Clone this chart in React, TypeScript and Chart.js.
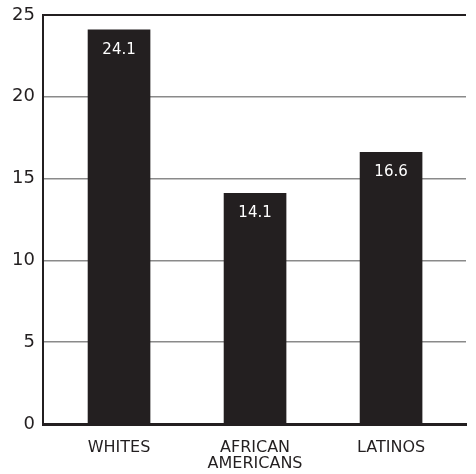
import React, { useEffect, useRef } from "react";
import { Chart, registerables } from "chart.js";

Chart.register(...registerables);

const categories: string[] = ["WHITES", "AFRICAN\nAMERICANS", "LATINOS"];
const values: number[] = [24.1, 14.1, 16.6];
const yTicks: number[] = [0, 5, 10, 15, 20, 25];

const INK = "#231f20";
const FONT = "'DejaVu Sans', sans-serif";

const valueLabels = {
  id: "valueLabels",
  afterDatasetsDraw(chart: any) {
    const ctx = chart.ctx;
    const meta = chart.getDatasetMeta(0);
    ctx.save();
    ctx.fillStyle = "#ffffff";
    ctx.font = `15px ${FONT}`;
    ctx.textAlign = "center";
    ctx.textBaseline = "middle";
    meta.data.forEach((bar: any, i: number) => {
      ctx.fillText(values[i].toFixed(1), bar.x, bar.y + 20);
    });
    ctx.restore();
  },
};

export default function App() {
  const ref = useRef<HTMLCanvasElement | null>(null);

  useEffect(() => {
    if (!ref.current) return;
    const chart = new Chart(ref.current, {
      type: "bar",
      data: {
        datasets: [
          {
            data: values.map((v, i) => ({ x: i, y: v })),
            backgroundColor: INK,
            borderWidth: 0,
            barThickness: 62,
          },
        ],
      },
      options: {
        animation: false,
        responsive: false,
        maintainAspectRatio: false,
        layout: { padding: { left: 0, right: 10, top: 15, bottom: 0 } },
        plugins: {
          legend: { display: false },
          tooltip: { enabled: false },
        },
        scales: {
          x: {
            type: "linear",
            offset: false,
            min: -0.559,
            max: 2.551,
            afterBuildTicks: (s: any) => {
              s.ticks = categories.map((_, i) => ({ value: i }));
            },
            afterFit: (s: any) => {
              s.height = 50;
              s.paddingLeft = 0;
              s.paddingRight = 0;
            },
            grid: { display: false, drawTicks: false },
            border: { display: true, color: INK, width: 3 },
            ticks: {
              autoSkip: false,
              maxRotation: 0,
              padding: 16,
              color: INK,
              font: { family: FONT, size: 16, lineHeight: 1.0 },
              callback: (v: any) => {
                const idx = Math.round(Number(v));
                if (Math.abs(Number(v) - idx) > 1e-6 || !categories[idx]) return "";
                return categories[idx].split("\n");
              },
            },
          },
          y: {
            min: 0,
            max: 25,
            afterBuildTicks: (s: any) => {
              s.ticks = yTicks.map((v) => ({ value: v }));
            },
            afterFit: (s: any) => {
              s.width = 43;
              s.paddingTop = 0;
              s.paddingBottom = 0;
            },
            grid: {
              drawTicks: false,
              color: (c: any) =>
                c.tick && c.tick.value === 25
                  ? INK
                  : c.tick && c.tick.value === 0
                  ? "rgba(0,0,0,0)"
                  : "#8a8a8a",
              lineWidth: (c: any) => (c.tick && c.tick.value === 25 ? 2 : 1.5),
            },
            border: { display: true, color: INK, width: 2 },
            ticks: {
              padding: 8,
              color: INK,
              font: { family: FONT, size: 18 },
            },
          },
        },
      },
      plugins: [valueLabels],
    });
    return () => chart.destroy();
  }, []);

  return (
    <div
      style={{
        position: "fixed",
        left: 0,
        top: 0,
        width: 476,
        height: 474,
        background: "#ffffff",
      }}
    >
      <canvas ref={ref} width={476} height={474} />
    </div>
  );
}
